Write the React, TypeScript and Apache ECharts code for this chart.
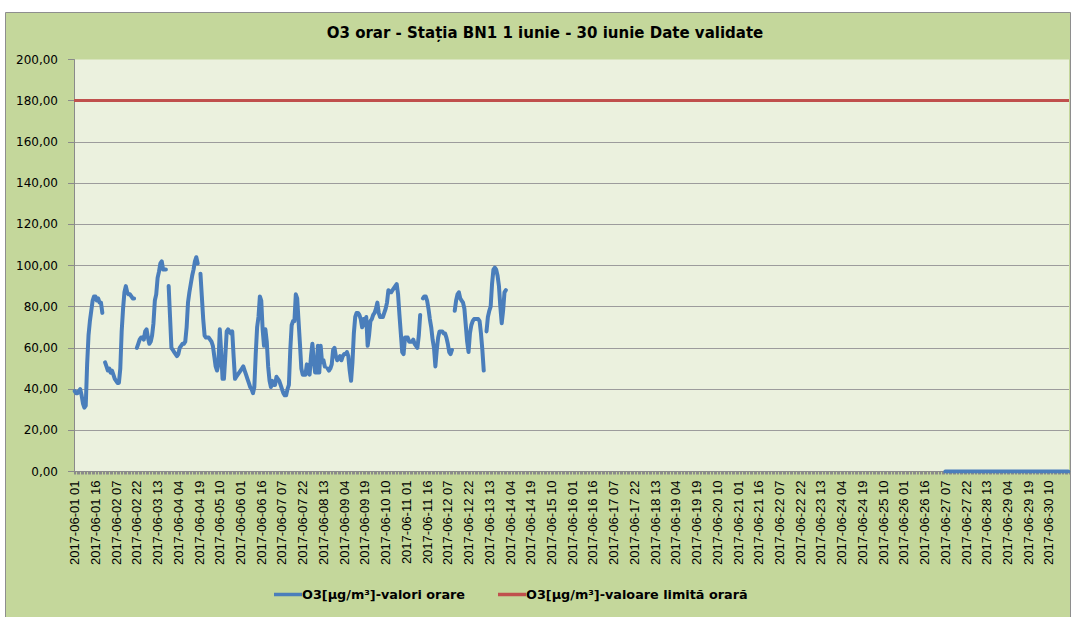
import React, { useEffect, useRef } from "react";
import * as echarts from "echarts";

// ---- DATA ----
const TITLE = "O3 orar - Stația BN1 1 iunie - 30 iunie Date validate";
const SERIES_HOURLY = "O3[µg/m³]-valori orare";
const SERIES_LIMIT = "O3[µg/m³]-valoare limită orară";

const FIRST_HOUR = "2017-06-01 01";
const HOURS_IN_MONTH = 720;

// hourly values from 2017-06-01 01 to 2017-06-14 01 (null = missing)
const O3_0601_0614 = [
  39, 38, 38, 39, 40, 37, 33, 31, 32, 52, 66, 73, 78, 83, 85, 85, 83, 84, 82, 82, 77, null, 53, 51,
  49, 50, 48, 49, 47, 45, 44, 43, 43, 50, 68, 79, 87, 90, 87, 86, 86, 85, 84, 84, null, 60, 62, 64,
  65, 65, 64, 68, 69, 65, 62, 63, 66, 72, 83, 86, 94, 97, 101, 102, 98, 98, 98, null, 90, 75, 60, 59,
  58, 57, 56, 57, 60, 61, 62, 62, 63, 70, 82, 87, 91, 95, 98, 102, 104, 101, null, 96, 85, 74, 66, 65,
  65, 65, 64, 63, 61, 56, 51, 49, 52, 69, 58, 45, 45, 56, 68, 69, 68, 67, 68, 56, 45, 46, 47, 48,
  49, 50, 51, 49, 47, 45, 43, 41, 40, 38, 41, 57, 70, 75, 85, 83, 69, 61, 69, 63, 51, 44, 41, 44,
  42, 42, 46, 45, 44, 42, 40, 38, 37, 37, 40, 42, 59, 71, 73, 73, 86, 84, 73, 62, 50, 47, 47, 47,
  52, 48, 47, 56, 62, 54, 48, 48, 61, 48, 61, 53, 54, 51, null, 50, 49, 50, 52, 59, 60, 56, 54, 55,
  56, 54, 56, 57, 57, 58, 56, 49, 44, 53, 67, 75, 77, 77, 76, 74, 70, 74, 71, 75, 61, 66, 73, 74,
  76, 77, 79, 82, 77, 75, 75, 75, 77, 79, 82, 88, 87, 87, 88, 89, 90, 91, 86, 76, 67, 58, 57, 65,
  65, 65, 63, 63, 63, 64, 62, 61, 60, 66, 76, null, 84, 85, 85, 83, 79, 74, 70, 64, 60, 51, 59, 65,
  68, 68, 68, 67, 67, 65, 62, 58, 57, 59, null, 78, 83, 86, 87, 84, 83, 82, 79, 71, 63, 58, 67, 71,
  73, 74, 74, 74, 74, 73, 67, 59, 49, null, 68, 75, 78, 80, 91, 98, 99, 98, 95, 90, 80, 72, 78, 87,
  88,
];

// hourly values from 2017-06-27 07 to 2017-07-01 00
const ZERO_FROM = "2017-06-27 07";
const O3_0627_0630 = [
  0, 0, 0, 0, 0, 0, 0, 0, 0, 0, 0, 0, 0, 0, 0, 0, 0, 0,
  0, 0, 0, 0, 0, 0, 0, 0, 0, 0, 0, 0, 0, 0, 0, 0, 0, 0,
  0, 0, 0, 0, 0, 0, 0, 0, 0, 0, 0, 0, 0, 0, 0, 0, 0, 0,
  0, 0, 0, 0, 0, 0, 0, 0, 0, 0, 0, 0, 0, 0, 0, 0, 0, 0,
  0, 0, 0, 0, 0, 0, 0, 0, 0, 0, 0, 0, 0, 0, 0, 0, 0, 0,
];

const LIMIT_VALUE = 180;
const Y_MIN = 0;
const Y_MAX = 200;
const Y_STEP = 20;

// ---- helpers ----
const pad = (n: number) => (n < 10 ? "0" + n : "" + n);
function buildCategories(): string[] {
  const out: string[] = [];
  for (let i = 0; i < HOURS_IN_MONTH; i++) {
    const t = i + 1;
    let day = 1 + Math.floor(t / 24);
    const hour = t % 24;
    let month = 6;
    if (day > 30) {
      day -= 30;
      month = 7;
    }
    out.push(`2017-${pad(month)}-${pad(day)} ${pad(hour)}`);
  }
  return out;
}

const WIDE_FONT = "'DejaVu Sans', Verdana, sans-serif";

export default function App() {
  const ref = useRef<HTMLDivElement>(null);

  useEffect(() => {
    if (!ref.current) return;
    const chart = echarts.init(ref.current, undefined, { renderer: "svg" });

    const categories = buildCategories();
    const firstIdx = categories.indexOf(FIRST_HOUR);
    const zeroIdx = categories.indexOf(ZERO_FROM);
    const hourly = categories.map((_, i) => {
      if (i >= firstIdx && i < firstIdx + O3_0601_0614.length) return O3_0601_0614[i - firstIdx];
      if (i >= zeroIdx && i < zeroIdx + O3_0627_0630.length) return O3_0627_0630[i - zeroIdx];
      return null;
    });

    const nLines = (Y_MAX - Y_MIN) / Y_STEP + 1;
    const splitColors: string[] = [];
    for (let i = 0; i < nLines; i++) splitColors.push(i === nLines - 1 ? "rgba(0,0,0,0)" : "#9C9C9C");

    chart.setOption({
      animation: false,
      backgroundColor: "#ffffff",
      graphic: [
        {
          type: "rect",
          z: -10,
          silent: true,
          shape: { x: 5.5, y: 12.5, width: 1065, height: 620 },
          style: { fill: "#C4D79B", stroke: "#8E8E8E", lineWidth: 1 },
        },
        {
          type: "text",
          x: 545,
          y: 33,
          style: {
            text: TITLE,
            fill: "#000000",
            font: "bold 15px " + WIDE_FONT,
            textAlign: "center",
            textVerticalAlign: "middle",
          },
        },
      ],
      grid: {
        left: 74,
        right: 4,
        top: 59.5,
        bottom: 145.5,
        show: true,
        backgroundColor: "#EBF1DE",
        borderWidth: 0,
      },
      legend: {
        left: 274,
        top: 588,
        padding: 0,
        icon: "rect",
        itemWidth: 28,
        itemHeight: 3.5,
        itemGap: 33,
        textStyle: {
          color: "#000000",
          fontWeight: "bold",
          fontSize: 12.8,
          fontFamily: WIDE_FONT,
          padding: [0, 0, 0, -5],
        },
        data: [SERIES_HOURLY, SERIES_LIMIT],
      },
      xAxis: {
        type: "category",
        data: categories,
        boundaryGap: true,
        axisLine: { show: true, lineStyle: { color: "#8A8A8A", width: 1 } },
        axisTick: { show: true, interval: 0, length: 3, lineStyle: { color: "#8A8A8A" } },
        axisLabel: {
          interval: 14,
          rotate: 90,
          margin: 9,
          color: "#000000",
          fontSize: 13,
          fontFamily: "'Liberation Sans Narrow', 'Liberation Sans', Arial, sans-serif",
        },
        splitLine: { show: false },
      },
      yAxis: {
        type: "value",
        min: Y_MIN,
        max: Y_MAX,
        interval: Y_STEP,
        axisLine: { show: true, lineStyle: { color: "#8A8A8A", width: 1 } },
        axisTick: { show: true, length: 6, lineStyle: { color: "#8A8A8A" } },
        axisLabel: {
          margin: 16,
          color: "#000000",
          fontSize: 12,
          fontFamily: WIDE_FONT,
          formatter: (v: number) => v.toFixed(2).replace(".", ","),
        },
        splitLine: { show: true, lineStyle: { color: splitColors, width: 1 } },
      },
      series: [
        {
          name: SERIES_HOURLY,
          type: "line",
          data: hourly,
          color: "#4A7EBB",
          symbol: "none",
          showSymbol: false,
          connectNulls: false,
          lineStyle: { color: "#4A7EBB", width: 4, join: "round", cap: "round" },
          z: 3,
        },
        {
          name: SERIES_LIMIT,
          type: "line",
          data: [],
          color: "#C0504D",
          symbol: "none",
          lineStyle: { color: "#C0504D", width: 3 },
          markLine: {
            silent: true,
            symbol: "none",
            label: { show: false },
            lineStyle: { color: "#C0504D", width: 3, type: "solid" },
            data: [{ yAxis: LIMIT_VALUE }],
          },
          z: 2,
        },
      ],
    });

    return () => chart.dispose();
  }, []);

  return (
    <div
      ref={ref}
      style={{ position: "fixed", left: 0, top: 0, width: 1073, height: 617 }}
    />
  );
}
